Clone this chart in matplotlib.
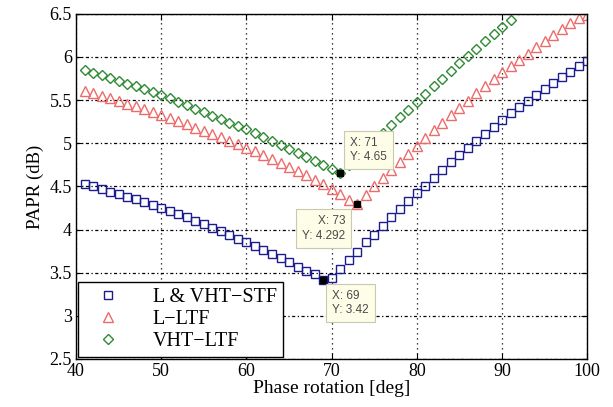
import matplotlib
matplotlib.use('Agg')
import matplotlib.pyplot as plt

plt.rcParams['font.family'] = ['Liberation Serif', 'DejaVu Serif']

# phase rotation in degrees, PAPR in dB
stf_x = list(range(41, 101))
stf_y = [4.53, 4.50, 4.47, 4.44, 4.41, 4.38, 4.35, 4.32, 4.285, 4.25,
         4.215, 4.18, 4.14, 4.10, 4.06, 4.02, 3.98, 3.94, 3.895, 3.85,
         3.805, 3.76, 3.715, 3.67, 3.62, 3.57, 3.52, 3.48, 3.42,
         3.44, 3.54, 3.65, 3.745, 3.85, 3.94, 4.04, 4.14, 4.235, 4.33, 4.42,
         4.51, 4.60, 4.69, 4.78, 4.865, 4.95, 5.03, 5.11, 5.19, 5.27,
         5.345, 5.42, 5.49, 5.56, 5.63, 5.70, 5.765, 5.83, 5.89, 5.95]

lltf_x = list(range(41, 101))
lltf_y = [5.61, 5.58, 5.55, 5.52, 5.49, 5.46, 5.43, 5.395, 5.36, 5.325,
          5.29, 5.255, 5.22, 5.18, 5.145, 5.105, 5.07, 5.03, 4.99, 4.95,
          4.91, 4.865, 4.82, 4.775, 4.73, 4.68, 4.63, 4.58, 4.525, 4.47,
          4.41, 4.34, 4.292,
          4.40, 4.50, 4.595, 4.69, 4.785, 4.88, 4.97, 5.06, 5.15, 5.24, 5.325,
          5.41, 5.495, 5.58, 5.665, 5.75, 5.83, 5.90, 5.97, 6.04, 6.11,
          6.18, 6.25, 6.32, 6.39, 6.45, 6.49]

vltf_x = list(range(41, 92))
vltf_y = [5.85, 5.82, 5.79, 5.76, 5.725, 5.69, 5.66, 5.625, 5.595, 5.56,
          5.52, 5.48, 5.44, 5.40, 5.36, 5.32, 5.28, 5.24, 5.20, 5.16,
          5.115, 5.07, 5.025, 4.98, 4.935, 4.89, 4.84, 4.795, 4.75, 4.70,
          4.65,
          4.745, 4.84, 4.935, 5.03, 5.12, 5.21, 5.30, 5.39, 5.48,
          5.57, 5.66, 5.75, 5.84, 5.925, 6.01, 6.095, 6.18, 6.265, 6.35, 6.43]

labels = ['L & VHT\u2212STF', 'L\u2212LTF', 'VHT\u2212LTF']

# data tips: x, y, offset (pixels), alignment
tips = [(71, 4.65, (10, 10), 'left', 'bottom'),
        (73, 4.292, (-12, -11), 'right', 'top'),
        (69, 3.42, (9, -10), 'left', 'top')]

fig = plt.figure(figsize=(6.13, 4.07), dpi=100)
ax = fig.add_axes([0.124, 0.118, 0.834, 0.848])

ax.plot(stf_x, stf_y, linestyle='None', marker='s', markersize=6,
        markerfacecolor='none', markeredgecolor='#1c1c8e', markeredgewidth=1.0,
        label=labels[0])
ax.plot(lltf_x, lltf_y, linestyle='None', marker='^', markersize=7,
        markerfacecolor='none', markeredgecolor='#ee6b6b', markeredgewidth=1.0,
        label=labels[1])
ax.plot(vltf_x, vltf_y, linestyle='None', marker='D', markersize=5.5,
        markerfacecolor='none', markeredgecolor='#2f8a34', markeredgewidth=1.0,
        label=labels[2])

for tx, ty, off, ha, va in tips:
    ax.plot(tx, ty, marker='s', markersize=5, color='black', zorder=6)
    ax.annotate('X: %g\nY: %g' % (tx, ty), xy=(tx, ty), xytext=off,
                textcoords='offset pixels', ha=ha, va=va, multialignment=ha,
                fontsize=8.5, family='Liberation Sans', color='#4a4a4a',
                linespacing=1.3, zorder=7,
                bbox=dict(boxstyle='square,pad=0.5', facecolor='#fdfde8',
                          edgecolor='#c9c9b0', linewidth=0.8))

ax.set_xlim(40, 100)
ax.set_ylim(2.5, 6.5)
ax.set_xticks(range(40, 101, 10))
ax.set_yticks([2.5, 3, 3.5, 4, 4.5, 5, 5.5, 6, 6.5])
ax.set_yticklabels(['2.5', '3', '3.5', '4', '4.5', '5', '5.5', '6', '6.5'])
ax.tick_params(direction='in', length=4, width=0.8, top=True, right=True,
               labelsize=13, pad=3)
ax.grid(axis='x', color='black', linestyle=(0, (1, 3)), linewidth=0.9)
ax.grid(axis='y', color='black', linestyle=(0, (2.5, 2, 1, 2)), linewidth=0.9)
for s in ax.spines.values():
    s.set_linewidth(1.0)

ax.set_xlabel('Phase rotation [deg]', fontsize=14, labelpad=0)
ax.set_ylabel('PAPR (dB)', fontsize=13.5, labelpad=4)

leg = ax.legend(loc='lower left', fontsize=14.5, borderaxespad=0.1,
                fancybox=False, framealpha=1, edgecolor='black',
                handletextpad=1.0, labelspacing=0.15, borderpad=0.3,
                handlelength=2.4)
leg.get_frame().set_linewidth(1.0)

fig.savefig('out.png', dpi=100)
